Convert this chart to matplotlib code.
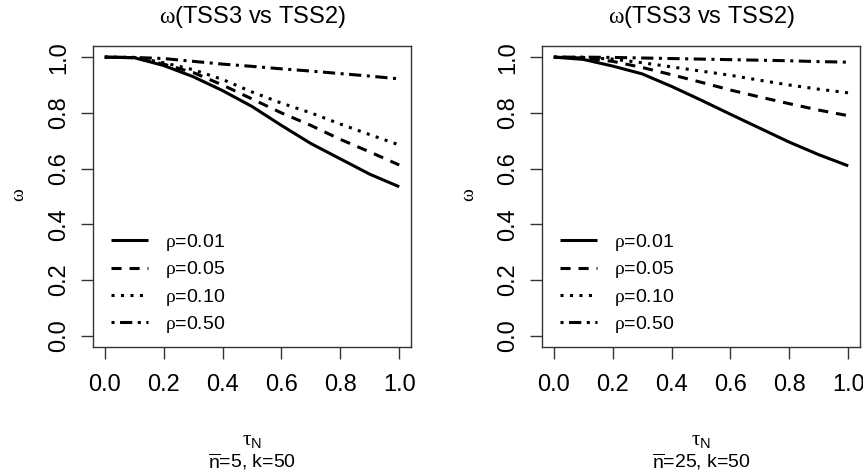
import matplotlib
matplotlib.use("Agg")
import matplotlib.pyplot as plt

plt.rcParams['font.family'] = ['Liberation Sans', 'DejaVu Sans']
plt.rcParams['mathtext.fontset'] = 'custom'
plt.rcParams['mathtext.rm'] = 'Liberation Sans'
plt.rcParams['mathtext.it'] = 'Liberation Serif'
plt.rcParams['mathtext.sf'] = 'Liberation Sans'
plt.rcParams['mathtext.bf'] = 'Liberation Sans:bold'

# Noise fraction tau_N on the x axis
tau = [0.0, 0.1, 0.2, 0.3, 0.4, 0.5, 0.6, 0.7, 0.8, 0.9, 1.0]

# omega(TSS3 vs TSS2), n-bar = 5, k = 50
w5_rho001 = [1.000, 0.998, 0.970, 0.930, 0.880, 0.823, 0.755, 0.690, 0.635, 0.580, 0.535]
w5_rho005 = [1.000, 0.998, 0.975, 0.945, 0.900, 0.850, 0.800, 0.755, 0.705, 0.660, 0.613]
w5_rho010 = [1.000, 0.999, 0.980, 0.955, 0.920, 0.875, 0.835, 0.800, 0.760, 0.722, 0.685]
w5_rho050 = [1.000, 0.999, 0.995, 0.985, 0.975, 0.967, 0.958, 0.950, 0.941, 0.932, 0.922]

# omega(TSS3 vs TSS2), n-bar = 25, k = 50
w25_rho001 = [1.000, 0.992, 0.968, 0.940, 0.895, 0.846, 0.795, 0.745, 0.695, 0.650, 0.610]
w25_rho005 = [1.000, 0.997, 0.985, 0.963, 0.937, 0.910, 0.882, 0.857, 0.833, 0.810, 0.790]
w25_rho010 = [1.000, 0.999, 0.993, 0.980, 0.965, 0.950, 0.935, 0.917, 0.900, 0.885, 0.872]
w25_rho050 = [1.000, 1.000, 0.999, 0.997, 0.995, 0.993, 0.991, 0.989, 0.987, 0.984, 0.982]

rho_labels = [r'$\rho$=0.01', r'$\rho$=0.05', r'$\rho$=0.10', r'$\rho$=0.50']
subtitles = [r'$\overline{\mathrm{n}}$=5, k=50', r'$\overline{\mathrm{n}}$=25, k=50']
ticks = [0.0, 0.2, 0.4, 0.6, 0.8, 1.0]
tick_labels = ['0.0', '0.2', '0.4', '0.6', '0.8', '1.0']

panels = [
    [w5_rho001, w5_rho005, w5_rho010, w5_rho050],
    [w25_rho001, w25_rho005, w25_rho010, w25_rho050],
]

# solid, dashed, dotted, dot-dash (lengths in line widths)
styles = ['-', (0, (3.3, 2.6)), (0, (1, 2.1)), (0, (1, 1.8, 4, 1.8))]

W, H = 863, 475
fig = plt.figure(figsize=(W / 100, H / 100), dpi=100)

lefts = [93, 542]
for i, series in enumerate(panels):
    x0 = lefts[i]
    ax = fig.add_axes([x0 / W, 1 - 347 / H, 318 / W, 301 / H])
    for ys, ls, lab in zip(series, styles, rho_labels):
        ax.plot(tau, ys, color='black', lw=2.2, linestyle=ls,
                dash_capstyle='butt', solid_capstyle='butt', label=lab)
    ax.set_xlim(-0.04, 1.04)
    ax.set_ylim(-0.04, 1.04)
    ax.set_xticks(ticks)
    ax.set_xticklabels(tick_labels)
    ax.set_yticks(ticks)
    ax.set_yticklabels(tick_labels, rotation=90, va='center')
    ax.tick_params(direction='out', length=8.5, width=1.0, labelsize=17,
                   color='#333333')
    ax.tick_params(axis='x', pad=11)
    ax.tick_params(axis='y', pad=8)
    for sp in ax.spines.values():
        sp.set_linewidth(1.0)
        sp.set_color('#333333')
    ax.text(0.5, 1 + 29 / 301, r'$\omega$(TSS3 vs TSS2)', transform=ax.transAxes,
            ha='center', va='center', fontsize=17)
    ax.text(-73 / 318, (347 - 195) / 301, r'$\omega$', transform=ax.transAxes,
            ha='center', va='center', fontsize=14, rotation=90)
    ax.text(0.5, -(440 - 347) / 301, r'$\tau_{\mathrm{N}}$', transform=ax.transAxes,
            ha='center', va='center', fontsize=15)
    ax.text(0.5, -(462 - 347) / 301, subtitles[i], transform=ax.transAxes,
            ha='center', va='center', fontsize=14)
    ax.legend(loc='upper left', bbox_to_anchor=(18 / 318, (347 - 232) / 301),
              frameon=False, fontsize=14, handlelength=1.9, handletextpad=0.9,
              labelspacing=0.33, borderpad=0, borderaxespad=0)

fig.savefig('out.png', dpi=100)
